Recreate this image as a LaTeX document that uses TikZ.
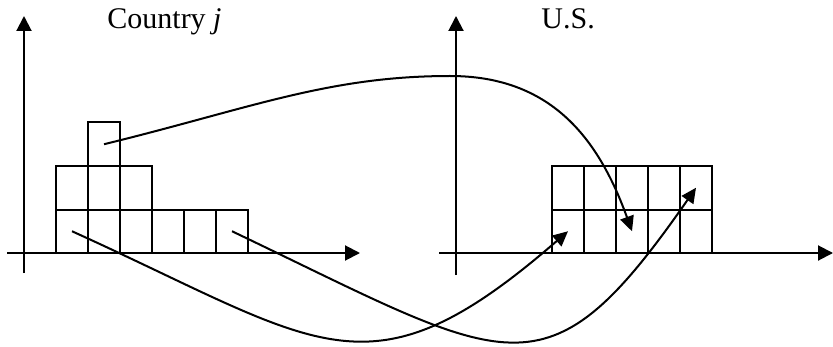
\documentclass[tikz,border=0pt]{standalone}
\usepackage{fontspec}
\setmainfont{Liberation Serif}
\usetikzlibrary{arrows.meta}

\begin{document}
\begin{tikzpicture}[
    x=0.5pt, y=-0.5pt,
    font=\fontsize{15}{18}\selectfont,
    cell/.style={draw, line width=1pt, minimum width=16pt,
                 minimum height=21.75pt, inner sep=0pt, outer sep=0pt},
    axisarrow/.style={-{Triangle[length=7.5pt,width=7.5pt]}, line width=1pt},
    flow/.style={-{Triangle[length=7.5pt,width=7pt]}, line width=1pt},
    heading/.style={anchor=base west, inner sep=0pt}
  ]
  \useasboundingbox (0,0) rectangle (833,347);

  %% ── Country j ──
  \draw[axisarrow] (24,273) -- (24,16);
  \draw[axisarrow] (7,253) -- (360,253);
  \node[heading] (jtitle) at (107,29) {Country \textit{j}};

  \foreach \c [count=\i] in {72,104,136,168,200,232}
    \node[cell] (j1-\i) at (\c,231.25) {};
  \foreach \c [count=\i] in {72,104,136}
    \node[cell] (j2-\i) at (\c,187.75) {};
  \node[cell] (j3-2) at (104,144.25) {};

  %% ── U.S. ──
  \draw[axisarrow] (456,275) -- (456,16);
  \draw[axisarrow] (439,253) -- (833,253);
  \node[heading] (ustitle) at (541,29) {U.S.};

  \foreach \c [count=\i] in {568,600,632,664,696} {
    \node[cell] (us1-\i) at (\c,231.25) {};
    \node[cell] (us2-\i) at (\c,187.75) {};
  }

  %% ── Flows ──
  \draw[flow] (j1-1.center) .. controls (322,344.5) and (368,405) .. (us1-1.center);
  \draw[flow] (j1-6.center) .. controls (512,365) and (545,405) .. (us2-5.center);
  \draw[flow] (j3-2.center) .. controls (250,108.5) and (328,76) .. (450,76)
              .. controls (550,76) and (598,137) .. (us1-3.center);

\end{tikzpicture}
\end{document}
